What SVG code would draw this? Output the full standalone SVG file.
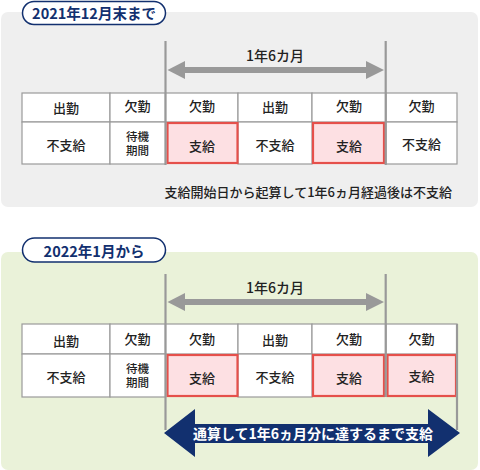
<svg xmlns="http://www.w3.org/2000/svg" width="480" height="470" viewBox="0 0 480 470">
<defs>
<style>
.t{font-family:"Noto Sans CJK JP","Liberation Sans",sans-serif;font-size:13px;font-weight:500;fill:#222;text-anchor:middle}
.s{font-size:11.5px}
.big{font-size:14px}
.pill{fill:#fff;stroke:#12306f;stroke-width:1.5}
.pt{font-family:"Noto Sans CJK JP","Liberation Sans",sans-serif;font-size:14.5px;font-weight:bold;fill:#12306f;text-anchor:middle}
.cell{fill:#fff;stroke:#9a9a9a;stroke-width:1.2}
.pay{fill:#fde0e3;stroke:#e5504b;stroke-width:2.2}
.vl{stroke:#999;stroke-width:2.2}
.ga{fill:#999}
</style>
</defs>
<rect x="1" y="12" width="477" height="195" rx="7" fill="#efefef"/>
<rect x="1" y="252" width="477" height="218" rx="7" fill="#eaf2d9"/>

<g id="label1"><rect class="pill" x="22.5" y="1.5" width="143" height="23" rx="11.5"/><text class="pt" x="94" y="19">2021年12月末まで</text></g>
<g id="label2"><rect class="pill" x="22.5" y="238" width="143" height="24" rx="12"/><text class="pt" x="94" y="256.5">2022年1月から</text></g>

<g id="table1">
<rect class="cell" x="22" y="93" width="88" height="29"/>
<rect class="cell" x="110" y="93" width="55.5" height="29"/>
<rect class="cell" x="165.5" y="93" width="72.5" height="29"/>
<rect class="cell" x="238" y="93" width="74" height="29"/>
<rect class="cell" x="312" y="93" width="74" height="29"/>
<rect class="cell" x="386" y="93" width="71" height="29"/>
<rect class="cell" x="22" y="122" width="88" height="42"/>
<rect class="cell" x="110" y="122" width="55.5" height="42"/>
<rect class="cell" x="238" y="122" width="74" height="42"/>
<rect class="cell" x="386" y="122" width="71" height="42"/>
<rect class="pay" x="167.5" y="123" width="70" height="40"/>
<rect class="pay" x="313" y="123" width="71" height="40"/>
<text class="t" x="66" y="113">出勤</text>
<text class="t" x="137.5" y="111">欠勤</text>
<text class="t" x="202" y="111">欠勤</text>
<text class="t" x="275" y="112">出勤</text>
<text class="t" x="349" y="111">欠勤</text>
<text class="t" x="421.5" y="111">欠勤</text>
<text class="t" x="66" y="150">不支給</text>
<text class="t s"><tspan x="137.5" y="141">待機</tspan><tspan x="137.5" y="155">期間</tspan></text>
<text class="t" x="202" y="151">支給</text>
<text class="t" x="275" y="150">不支給</text>
<text class="t" x="349" y="151">支給</text>
<text class="t" x="421.5" y="149">不支給</text>
</g>

<g id="table2">
<rect class="cell" x="22" y="324" width="88" height="30"/>
<rect class="cell" x="110" y="324" width="55.5" height="30"/>
<rect class="cell" x="165.5" y="324" width="72.5" height="30"/>
<rect class="cell" x="238" y="324" width="74" height="30"/>
<rect class="cell" x="312" y="324" width="74" height="30"/>
<rect class="cell" x="386" y="324" width="71" height="30"/>
<rect class="cell" x="22" y="354" width="88" height="43"/>
<rect class="cell" x="110" y="354" width="55.5" height="43"/>
<rect class="cell" x="238" y="354" width="74" height="43"/>
<rect class="pay" x="167.5" y="355" width="70" height="41"/>
<rect class="pay" x="313" y="355" width="71" height="41"/>
<rect class="pay" x="387.5" y="355" width="68.5" height="41"/>
<text class="t" x="66" y="346">出勤</text>
<text class="t" x="137.5" y="344">欠勤</text>
<text class="t" x="202" y="344">欠勤</text>
<text class="t" x="275" y="345">出勤</text>
<text class="t" x="349" y="344">欠勤</text>
<text class="t" x="421.5" y="344">欠勤</text>
<text class="t" x="66" y="382">不支給</text>
<text class="t s"><tspan x="137.5" y="373">待機</tspan><tspan x="137.5" y="387">期間</tspan></text>
<text class="t" x="202" y="383">支給</text>
<text class="t" x="275" y="382">不支給</text>
<text class="t" x="349" y="383">支給</text>
<text class="t" x="421.5" y="381">支給</text>
</g>

<g id="connectors">
<line class="vl" x1="165.5" y1="41" x2="165.5" y2="165"/>
<line class="vl" x1="385.7" y1="41" x2="385.7" y2="165"/>
<path class="ga" d="M167.5,70 L185,61 L185,67 L366,67 L366,61 L384,70 L366,79 L366,73 L185,73 L185,79 Z"/>
<line class="vl" x1="165.5" y1="274" x2="165.5" y2="430"/>
<line class="vl" x1="385.7" y1="274" x2="385.7" y2="397"/>
<line class="vl" x1="457" y1="324" x2="457" y2="430"/>
<path class="ga" d="M167.5,302 L185,293 L185,299 L366,299 L366,293 L384,302 L366,311 L366,305 L185,305 L185,311 Z"/>
</g>

<g id="span1"><text class="t big" x="275" y="61">1年6カ月</text></g>
<g id="span2"><text class="t big" x="275" y="293">1年6カ月</text></g>
<g id="note1"><text class="t" x="452" y="197" style="text-anchor:end">支給開始日から起算して1年6ヵ月経過後は不支給</text></g>

<g id="bigarrow">
<path d="M164,433 L195,409 L195,424 L428,424 L428,409 L460,433 L428,457 L428,443 L195,443 L195,457 Z" fill="#12306f"/>
<text class="t" x="313" y="439" style="fill:#fff;font-weight:bold;font-size:14px">通算して1年6ヵ月分に達するまで支給</text>
</g>
</svg>
